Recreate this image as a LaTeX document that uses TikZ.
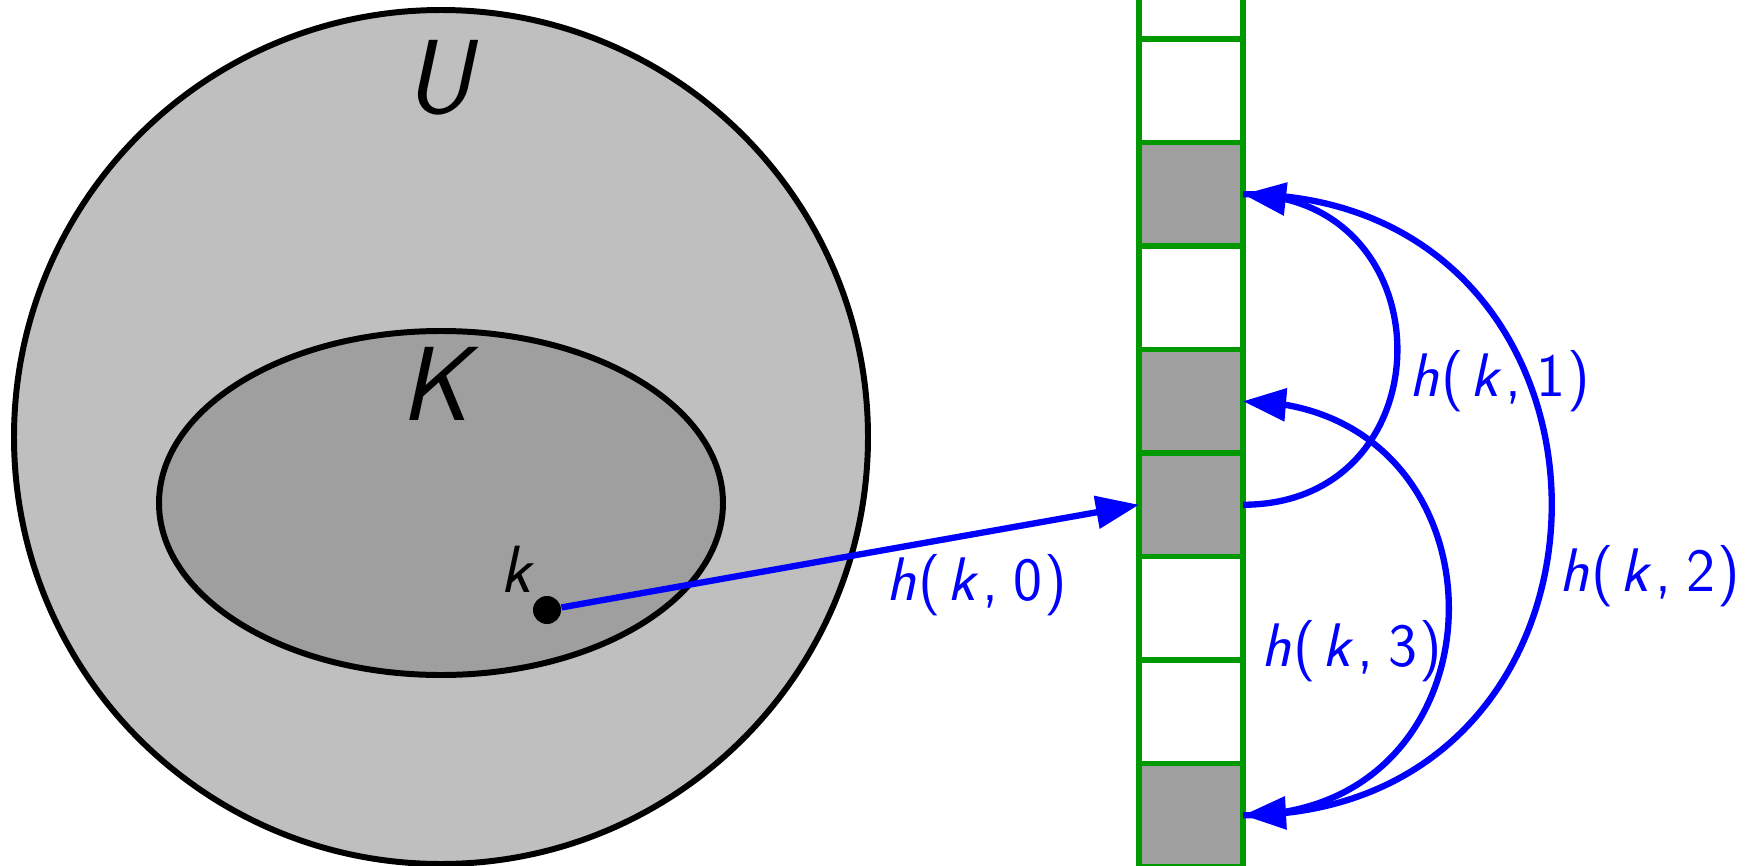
\documentclass[tikz,border=0pt]{standalone}
\usetikzlibrary{arrows.meta,bending,positioning}
\definecolor{slotgreen}{RGB}{0,153,0}
\definecolor{probeblue}{RGB}{0,0,255}
\definecolor{keygray}{RGB}{159,159,159}
\definecolor{unigray}{RGB}{191,191,191}
\newcommand{\slv}[1]{\textsl{#1}}
\newcommand{\probe}[1]{\slv{h}\kern.6pt(\kern1.8pt\slv{k}\kern1pt,\kern4.2pt#1\kern.8pt)}

\begin{document}
\begin{tikzpicture}[>={Triangle[length=4.3mm, width=3.2mm]}]
    \tikzset{
      settag/.style={font=\sffamily\fontsize{30}{34}\selectfont},
      keytag/.style={font=\sffamily\fontsize{19}{22}\selectfont},
      probetag/.style={font=\sffamily\fontsize{17.5}{21}\selectfont, text=probeblue},
      slot/.style={draw=slotgreen, line width=1.7pt, rectangle, inner sep=0pt,
        outer sep=0pt, minimum width=1.04cm, minimum height=1.035cm},
      probeline/.style={->, probeblue, line width=1.8pt},
    }
    \useasboundingbox (0,0) rectangle (17.54,8.65);
    \clip (0,0) rectangle (17.54,8.65);
    % --- universe U and key set K ---
    \draw[fill=unigray, line width=1.7pt] (4.41,4.28) circle (4.27);
    \draw[fill=keygray, line width=1.7pt] (4.41,3.62) ellipse (2.82 and 1.72);
    \node[settag] (U) at (4.42,7.87) {\slv{U}};
    \node[settag] (K) at (4.40,4.81) {\slv{K}};
    % --- the key k ---
    \node[circle, fill=black, inner sep=0pt, minimum size=0.28cm] (key) at (5.47,2.55) {};
    \node[keytag] (k) at (5.18,2.96) {\slv{k}};
    % --- hash table slots (bottom to top) ---
    \foreach \i/\c in {0/keygray, 1/white, 2/white, 3/keygray, 4/keygray,
                       5/white, 6/keygray, 7/white, 8/white}
      \node[slot, fill=\c] (c\i) at (11.91, {0.4975+1.035*\i}) {};
    % --- probe sequence ---
    \draw[probeline] (key) -- (c3.west);
    \draw[probeline] (c3.east) to[out=0, in=0, looseness=1.7] (c6.east);
    \draw[probeline] (c6.east) to[out=0, in=0, looseness=1.7] (c0.east);
    \draw[probeline] (c0.east) to[out=0, in=0, looseness=1.7] (c4.east);
    % --- probe labels ---
    \node[probetag] (h0) at (9.77,2.80) {\probe{0}};
    \node[probetag] (h1) at (15.00,4.84) {\probe{1}};
    \node[probetag] (h2) at (16.50,2.89) {\probe{2}};
    \node[probetag] (h3) at (13.52,2.14) {\probe{3}};
\end{tikzpicture}
\end{document}
